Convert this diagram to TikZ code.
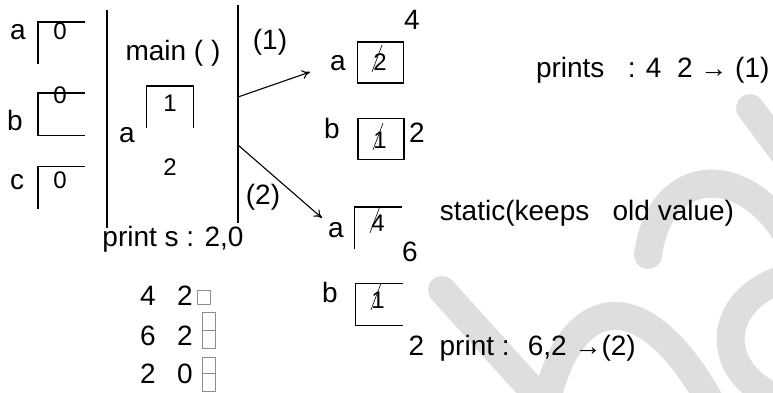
\documentclass[tikz,border=0pt]{standalone}
\usepackage{fontspec}
\setmainfont{Liberation Sans}
\usetikzlibrary{arrows.meta}
\tikzset{
  lbl/.style={inner sep=0pt, font=\fontsize{28}{30}\selectfont},
  num/.style={inner sep=0pt, font=\fontsize{24}{26}\selectfont},
  cell/.style={minimum width=46pt, minimum height=41pt, inner sep=0pt},
  slash/.style={line width=0.6pt},
  gapbox/.style={draw=black!45, line width=0.5pt},
  wm/.style={line width=28pt, line cap=round, black!13},
  call/.style={-{To[length=8pt, width=9pt]}},
}
\newcommand{\arr}{{\fontsize{27}{27}\selectfont →}}

\begin{document}
\begin{tikzpicture}[x=1pt, y=-1pt, line width=1.1pt]
    \useasboundingbox (0,0) rectangle (773,392);
    % faint background strokes
    \draw[wm] (750,108) -- (800,175);
    \draw[wm] (442,290) -- (555,415);
    \draw[wm] (545,410) .. controls (565,300) and (640,270) .. (715,410);
    \draw[wm] (648,255) .. controls (660,165) and (745,160) .. (790,240);
    \draw[wm] (800,275) .. controls (710,290) and (705,385) .. (800,405);

    % globals a, b, c
    \node[lbl] at (18,32) (ga) {a};
    \node[cell] at (61.5,43) (gabox) {};
    \node[num] at (60,31) (gaval) {0};
    \node[lbl] at (15,120) (gb) {b};
    \node[cell] at (61.5,114) (gbbox) {};
    \node[num] at (60,95) (gbval) {0};
    \node[lbl] at (17,182) (gc) {c};
    \node[cell] at (61.5,187.5) (gcbox) {};
    \node[num] at (60,180) (gcval) {0};
    \draw (gabox.south west) |- (gabox.north east);
    \draw (gbbox.north east) -| (gbbox.south west) -- (gbbox.south east);
    \draw (gcbox.south west) |- (gcbox.north east);

    % main frame
    \coordinate (mainl1) at (107,10);
    \coordinate (mainl2) at (107,228);
    \coordinate (mainr1) at (238,5);
    \coordinate (mainr2) at (238,223);
    \draw (mainl1) -- (mainl2);
    \draw (mainr1) -- (mainr2);
    \node[lbl] at (173,53) (mainlbl) {main ( )};
    \node[lbl] at (127,135) (ma) {a};
    \node[cell] at (170,107) (mabox) {};
    \node[num] at (170,103) (maval) {1};
    \node[num] at (170,167) (manew) {2};
    \draw (mabox.south west) |- (mabox.north east) -- (mabox.south east);
    \node[lbl] at (173,239) (mainout) {print s : 2,0};

    % calls
    \coordinate (call1) at (238,97);
    \coordinate (call1e) at (310,72);
    \coordinate (call2) at (238,145);
    \coordinate (call2e) at (322,218);
    \path
      (call1) edge [call] (call1e)
      (call2) edge [call] (call2e);
    \node[lbl] at (270,42) (c1) {(1)};
    \node[lbl] at (263,197) (c2) {(2)};

    % first call
    \node[lbl] at (338,63) (fa) {a};
    \node[cell, draw] at (380.5,62.5) (fabox) {};
    \node[num] at (380,62) (faold) {2};
    \node[lbl] at (412,20) (fanew) {4};
    \node[lbl] at (332,128) (fb) {b};
    \node[cell, draw] at (381,139) (fbbox) {};
    \node[num] at (380,140) (fbold) {1};
    \node[lbl] at (417,133) (fbnew) {2};
    \draw[slash] ([shift={(-8,1)}]faold.south) -- ([shift={(2,-8)}]faold.north);
    \draw[slash] ([shift={(-7,1)}]fbold.south) -- ([shift={(3,-8)}]fbold.north);
    \node[lbl, anchor=east] at (770,70) (out1) {prints \ \ : 4 \ 2 \arr{} (1)};

    % second call
    \node[lbl] at (336,230) (sa) {a};
    \node[cell] at (378,228) (sabox) {};
    \node[num] at (378,223) (saold) {4};
    \node[lbl] at (410,252) (sanew) {6};
    \node[lbl] at (330,292) (sb) {b};
    \node[cell] at (379,304.5) (sbbox) {};
    \node[num] at (378,300) (sbold) {1};
    \draw (sabox.south west) |- (sabox.north east);
    \draw (sbbox.north east) -| (sbbox.south west) -- (sbbox.south east);
    \draw[slash] ([shift={(-8,1)}]saold.south) -- ([shift={(2,-8)}]saold.north);
    \draw[slash] ([shift={(-7,1)}]sbold.south) -- ([shift={(3,-8)}]sbold.north);
    \node[lbl] at (587,213) (note) {static(keeps \ \ old value)};
    \node[lbl, anchor=west] at (408,348) (out2) {2 \ print : \ 6,2 \arr(2)};

    % output list
    \node[lbl] at (148,296) (r1a) {4};
    \node[lbl] at (185,296) (r1b) {2};
    \node[lbl] at (148,336) (r2a) {6};
    \node[lbl] at (185,336) (r2b) {2};
    \node[lbl] at (148,374) (r3a) {2};
    \node[lbl] at (185,374) (r3b) {0};
    \draw[gapbox] (197,290) rectangle (210,304);
    \draw[gapbox] (202,312) rectangle (215,330);
    \draw[gapbox] (202,330) rectangle (215,348);
    \draw[gapbox] (202,357) rectangle (215,373);
    \draw[gapbox] (202,373) rectangle (215,391);
\end{tikzpicture}
\end{document}
